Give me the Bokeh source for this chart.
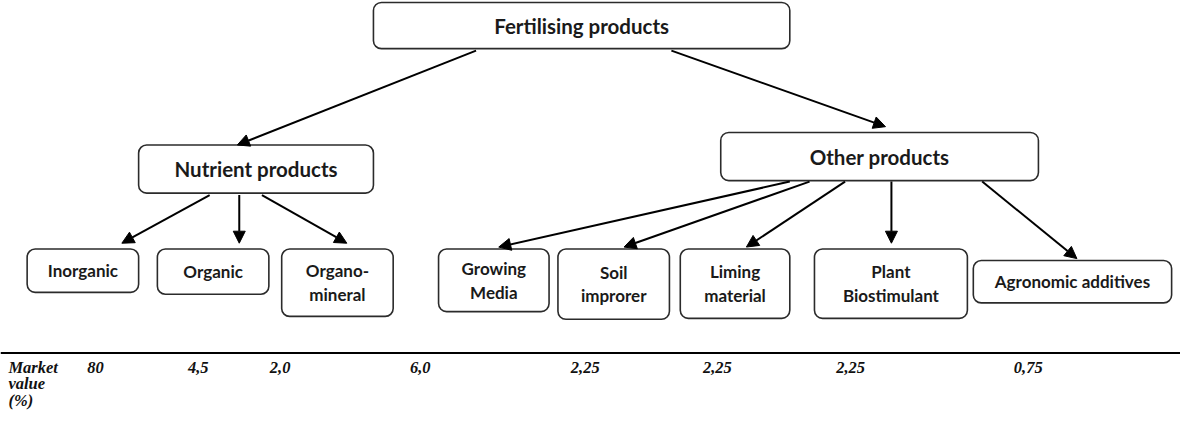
from bokeh.plotting import figure
from bokeh.models import Range1d, Arrow, NormalHead, ColumnDataSource
from bokeh.core.properties import value
from bokeh.embed import file_html
from bokeh.resources import INLINE

# ---- data ----
nodes = ["Fertilising products", "Nutrient products", "Other products",
         "Inorganic", "Organic", "Organo-\nmineral",
         "Growing\nMedia", "Soil\nimprorer", "Liming\nmaterial",
         "Plant\nBiostimulant", "Agronomic additives"]
parents = [None, 0, 0, 1, 1, 1, 2, 2, 2, 2, 2]
market_label = ["Market", "value", "(%)"]
market_values = ["80", "4,5", "2,0", "6,0", "2,25", "2,25", "2,25", "0,75"]

# ---- layout (pixel coordinates of the reference) ----
boxes = [  # left, right, top, bottom
    (378, 800, 2, 50),
    (140, 378, 150, 200),
    (730, 1052, 137, 187),
    (27, 140, 258, 303),
    (159, 272, 258, 305),
    (285, 398, 258, 328),
    (444, 556, 258, 323),
    (565, 678, 258, 331),
    (689, 800, 258, 330),
    (825, 980, 258, 330),
    (986, 1187, 270, 314),
]
font_sizes = ["20.5px", "20.5px", "20.5px"] + ["17px"] * 8
arrows = [  # x0, y0, x1, y1
    (482, 52, 240, 150),
    (680, 52, 897, 131),
    (212, 202, 123, 252),
    (242, 202, 242, 252),
    (265, 202, 351, 252),
    (800, 188, 505, 256),
    (820, 188, 632, 256),
    (856, 188, 756, 256),
    (903, 188, 903, 252),
    (995, 188, 1091, 268),
]
value_x = [88, 190, 273, 415, 578, 712, 847, 1027]

p = figure(width=1180, height=418, output_backend="svg", toolbar_location=None,
           x_range=Range1d(0, 1196), y_range=Range1d(434, 0),
           min_border=0, outline_line_color=None)
p.axis.visible = False
p.grid.visible = False
p.background_fill_color = "white"

p.quad(left=[b[0] for b in boxes], right=[b[1] for b in boxes],
       top=[b[2] for b in boxes], bottom=[b[3] for b in boxes],
       fill_color="white", line_color="#2b2b2b", line_width=1.6, border_radius=8)

tx, ty, tt, ts = [], [], [], []
for b, name, fs in zip(boxes, nodes, font_sizes):
    lines = name.split("\n")
    cx = (b[0] + b[1]) / 2
    cy = (b[2] + b[3]) / 2
    lh = 24.5
    for i, ln in enumerate(lines):
        tx.append(cx)
        ty.append(cy + (i - (len(lines) - 1) / 2) * lh)
        tt.append(ln)
        ts.append(fs)
src = ColumnDataSource(dict(x=tx, y=ty, text=tt, size=ts))
p.text(x="x", y="y", text="text", text_font_size="size", source=src,
       text_font=value("Lato"), text_font_style="bold", text_color="#1a1a1a",
       text_align="center", text_baseline="middle")

for (x0, y0, x1, y1) in arrows:
    p.add_layout(Arrow(end=NormalHead(size=12, fill_color="black", line_color="black"),
                       x_start=x0, y_start=y0, x_end=x1, y_end=y1,
                       line_color="black", line_width=2))

p.line(x=[0, 1196], y=[366, 366], line_color="black", line_width=2)

p.text(x=[8] * 3, y=[381, 398, 415], text=market_label,
       text_font=value("Liberation Serif"), text_font_style="bold italic",
       text_font_size="16.5px", text_color="#111111", text_align="left",
       text_baseline="middle")
p.text(x=value_x, y=[381] * len(value_x), text=market_values,
       text_font=value("Liberation Serif"), text_font_style="bold italic",
       text_font_size="16.5px", text_color="#111111", text_align="left",
       text_baseline="middle")

open("out.html", "w").write(file_html(p, INLINE))
